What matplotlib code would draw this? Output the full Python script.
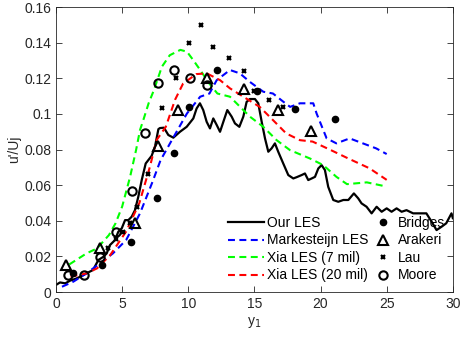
import numpy as np
import matplotlib.pyplot as plt
from matplotlib.lines import Line2D

plt.rcParams['font.family'] = ['Liberation Sans', 'DejaVu Sans']
plt.rcParams['lines.scale_dashes'] = False

# Our LES (solid black)
les_x = [0, 0.3, 0.7, 1.06, 1.5, 1.8, 2.3, 2.8, 3.2, 3.58, 3.83, 4.08, 4.46, 4.71, 4.97,
         5.22, 5.47, 5.72, 5.97, 6.22, 6.48, 6.78, 7.23, 7.48, 7.74, 7.86, 8.16, 8.49, 8.87,
         9.37, 9.88, 10.38, 10.63, 10.88, 11.13, 11.39, 11.64, 11.89, 12.15, 12.4, 12.65,
         12.95, 13.28, 13.53, 13.86, 14.16, 14.41, 14.66, 15.04, 15.29, 15.55, 15.8, 16.05,
         16.3, 16.55, 16.8, 17.18, 17.56, 17.94, 18.19, 18.57, 18.82, 19.07, 19.33, 19.58,
         19.83, 20.08, 20.33, 20.58, 20.96, 21.34, 21.72, 22.1, 22.52, 22.85, 23.1, 23.48,
         23.86, 24.24, 24.62, 25.0, 25.37, 25.75, 26.13, 26.5, 27.0, 27.5, 28.0, 28.4,
         28.77, 29.15, 29.5, 29.9, 30.0]
les_y = [0.004, 0.0054, 0.0049, 0.0064, 0.0075, 0.0085, 0.0105, 0.0124, 0.018, 0.0198,
         0.0217, 0.0264, 0.0292, 0.0339, 0.0358, 0.0404, 0.0404, 0.0423, 0.046, 0.0535,
         0.0629, 0.0722, 0.0765, 0.0816, 0.0915, 0.0921, 0.0923, 0.0882, 0.0867, 0.090,
         0.0928, 0.0975, 0.1031, 0.106, 0.1022, 0.0956, 0.0919, 0.0975, 0.0938, 0.090,
         0.0956, 0.1022, 0.0985, 0.0947, 0.0928, 0.0985, 0.1068, 0.1084, 0.1084, 0.106,
         0.0956, 0.0863, 0.0788, 0.0807, 0.0835, 0.0788, 0.0722, 0.0657, 0.0638, 0.0645,
         0.0657, 0.0666, 0.0629, 0.0638, 0.0647, 0.0694, 0.0713, 0.0685, 0.0591, 0.0517,
         0.0507, 0.0517, 0.0517, 0.0554, 0.0526, 0.0498, 0.0479, 0.0442, 0.0479, 0.0451,
         0.047, 0.0451, 0.047, 0.0451, 0.046, 0.0442, 0.0442, 0.0442, 0.0395, 0.0348,
         0.0367, 0.0386, 0.0442, 0.0415]

# Markesteijn LES
mk_x = [0.45, 1.3, 2.3, 3.3, 4.3, 5.3, 6.35, 7.3, 7.9, 8.9, 9.9, 10.9, 11.6, 12.15, 13.15,
        13.9, 14.66, 15.67, 16.4, 17.2, 17.7, 18.44, 19.45, 19.7, 20.46, 21.2, 22.2, 23.2,
        24.2, 25.0]
mk_y = [0.003, 0.0058, 0.0105, 0.016, 0.0217, 0.0292, 0.0442, 0.062, 0.074, 0.0872, 0.1003,
        0.1097, 0.1115, 0.119, 0.1247, 0.1228, 0.118, 0.1125, 0.1115, 0.1068, 0.104, 0.106,
        0.106, 0.1003, 0.0863, 0.0835, 0.0863, 0.0835, 0.0807, 0.0775]

# Xia LES (7 mil)
x7_x = [1.0, 2.3, 3.1, 4.0, 4.5, 5.0, 5.6, 6.05, 6.35, 6.6, 7.0, 7.4, 8.0, 8.6, 9.4, 9.9,
        10.4, 10.9, 11.6, 12.2, 13.15, 14.66, 15.67, 16.68, 17.69, 19.2, 20.2, 21.2, 22.0,
        23.5, 24.7]
x7_y = [0.0155, 0.0217, 0.0245, 0.032, 0.0386, 0.048, 0.0647, 0.0797, 0.091, 0.0966, 0.106,
        0.1134, 0.1265, 0.133, 0.136, 0.135, 0.130, 0.1247, 0.117, 0.1115, 0.1097, 0.0985,
        0.0928, 0.0853, 0.0797, 0.075, 0.0713, 0.0647, 0.0606, 0.0616, 0.0597]

# Xia LES (20 mil)
x20_x = [1.1, 2.3, 3.1, 4.1, 5.3, 6.3, 7.1, 7.6, 8.3, 9.0, 9.6, 10.6, 11.4, 12.4, 13.15,
         14.16, 15.4, 16.4, 17.4, 18.44, 19.4, 20.7, 22.1, 23.7, 25.0]
x20_y = [0.0086, 0.0105, 0.0133, 0.0208, 0.034, 0.050, 0.0704, 0.0853, 0.0928, 0.108, 0.117,
         0.1224, 0.1228, 0.119, 0.1144, 0.1097, 0.104, 0.0966, 0.0891, 0.0853, 0.0845,
         0.080, 0.075, 0.0695, 0.063]

# experiments
bridges_x = [1.28, 3.5, 5.67, 7.63, 8.9, 10.05, 12.17, 15.2, 18.1, 21.1]
bridges_y = [0.0105, 0.015, 0.028, 0.053, 0.078, 0.1037, 0.1248, 0.113, 0.103, 0.097]
arakeri_x = [0.73, 3.3, 5.97, 7.68, 9.25, 11.44, 14.2, 16.75, 19.3]
arakeri_y = [0.015, 0.025, 0.039, 0.082, 0.102, 0.12, 0.1138, 0.102, 0.0904]
lau_x = [3.96, 4.5, 5.1, 5.57, 6.12, 6.98, 7.99, 9.05, 10.05, 10.96, 11.89, 13.1, 14.19,
         15.0, 16.1, 17.18]
lau_y = [0.025, 0.0298, 0.034, 0.039, 0.048, 0.0664, 0.1035, 0.120, 0.140, 0.150, 0.1377,
         0.1316, 0.124, 0.113, 0.108, 0.1037]
moore_x = [0.88, 2.1, 3.3, 4.5, 5.77, 6.73, 7.68, 8.9, 10.15, 11.41]
moore_y = [0.0095, 0.0095, 0.0195, 0.0335, 0.057, 0.0893, 0.1173, 0.1248, 0.1203, 0.1164]

xticks = [0, 5, 10, 15, 20, 25, 30]
yticks = [0, 0.02, 0.04, 0.06, 0.08, 0.1, 0.12, 0.14, 0.16]
ytick_labels = ['0', '0.02', '0.04', '0.06', '0.08', '0.1', '0.12', '0.14', '0.16']

fig = plt.figure(figsize=(4.63, 3.40), dpi=100)
ax = fig.add_axes([0.121, 0.141, 0.857, 0.838])

dash = (0, (5, 3.2))
l1, = ax.plot(les_x, les_y, color='k', lw=1.6, label='Our LES')
l2, = ax.plot(mk_x, mk_y, color=(0, 0, 1), lw=1.5, ls=dash, label='Markesteijn LES')
l3, = ax.plot(x7_x, x7_y, color=(0, 1, 0), lw=1.5, ls=dash, label='Xia LES (7 mil)')
l4, = ax.plot(x20_x, x20_y, color=(1, 0, 0), lw=1.5, ls=dash, label='Xia LES (20 mil)')

m1, = ax.plot(bridges_x, bridges_y, 'ko', ms=4.5, ls='none', label='Bridges')
m2, = ax.plot(arakeri_x, arakeri_y, '^', ms=6.5, mfc='none', mec='k', mew=1.5, ls='none',
              label='Arakeri')
m3, = ax.plot(lau_x, lau_y, 'x', ms=3.5, mec='k', mew=1.6, ls='none', label='Lau')
m4, = ax.plot(moore_x, moore_y, 'o', ms=6, mfc='none', mec='k', mew=1.5, ls='none',
              label='Moore')

ax.set_xlim(0, 30)
ax.set_ylim(0, 0.16)
ax.set_xticks(xticks)
ax.set_yticks(yticks)
ax.set_yticklabels(ytick_labels)
axcol = (0.15, 0.15, 0.15)
ax.tick_params(direction='in', length=4, width=0.6, top=True, right=True,
               labelsize=10, colors=axcol)
for s in ax.spines.values():
    s.set_color(axcol)
    s.set_linewidth(0.6)
ax.set_xlabel('y$_1$', fontsize=10, color=axcol, labelpad=3)
ax.set_ylabel("u'/Uj", fontsize=10, color=axcol, labelpad=2)

leg1 = ax.legend(handles=[l1, l2, l3, l4], loc='upper left', frameon=False,
                 bbox_to_anchor=(228 / 463, 1 - 216 / 340), bbox_transform=fig.transFigure,
                 fontsize=10, handlelength=2.6, handletextpad=0.2, labelspacing=0.25,
                 borderaxespad=0, borderpad=0)
ax.add_artist(leg1)
ax.legend(handles=[m1, m2, m3, m4], loc='upper left', frameon=False,
          bbox_to_anchor=(376 / 463, 1 - 216 / 340), bbox_transform=fig.transFigure,
          fontsize=10, handlelength=1.0, handletextpad=0.6, labelspacing=0.25,
          borderaxespad=0, borderpad=0)

fig.savefig('out.png', dpi=100)
